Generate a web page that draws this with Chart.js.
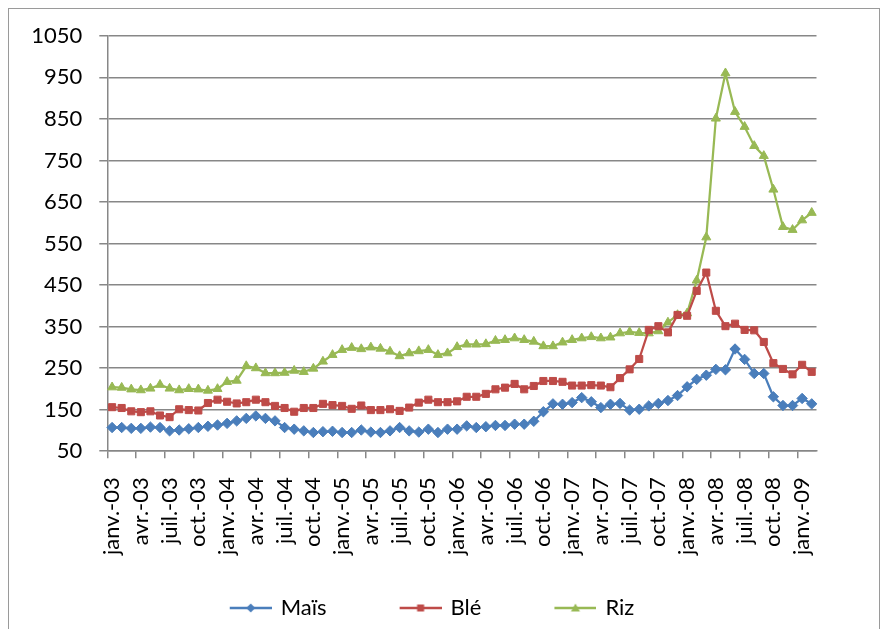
<!DOCTYPE html>
<html lang="fr">
<head>
<meta charset="utf-8">
<title>Prix des céréales : Maïs, Blé, Riz</title>
<script src="https://cdn.jsdelivr.net/npm/chart.js@4.4.1/dist/chart.umd.min.js"></script>
<style>
  html, body { margin: 0; padding: 0; background: #fff; }
  #wrap { width: 888px; height: 629px; }
</style>
</head>
<body>
<div id="wrap"><canvas id="chart" width="888" height="629"></canvas></div>
<script>
// Monthly series, janv.-03 .. févr.-09
const monthNames = ['janv.', 'févr.', 'mars', 'avr.', 'mai', 'juin', 'juil.', 'août', 'sept.', 'oct.', 'nov.', 'déc.'];
const years = ['03', '04', '05', '06', '07', '08', '09'];
const monthCount = 74;

const categories = [];
for (let i = 0; i < monthCount; i++) {
  categories.push(monthNames[i % 12] + '-' + years[Math.floor(i / 12)]);
}

const maisValues = [
  107, 107, 105, 105, 108, 107, 99, 101, 104, 107, 110, 113,
  117, 123, 129, 135, 129, 123, 107, 103, 99, 95, 97, 98,
  95, 95, 101, 96, 95, 99, 107, 99, 96, 103, 95, 103,
  103, 111, 107, 109, 112, 112, 115, 115, 122, 145, 164, 163,
  167, 179, 169, 155, 163, 165, 149, 151, 159, 165, 172, 184,
  205, 223, 233, 247, 246, 296, 271, 237, 237, 181, 160, 160, 177, 164
];

const bleValues = [
  156, 154, 146, 144, 146, 136, 132, 151, 149, 148, 166, 174,
  169, 165, 168, 174, 168, 159, 154, 145, 154, 154, 164, 161,
  159, 152, 160, 149, 149, 151, 147, 155, 167, 174, 168, 168,
  170, 181, 181, 188, 199, 203, 212, 199, 207, 219, 219, 217,
  208, 208, 209, 208, 204, 226, 247, 272, 342, 351, 336, 378,
  376, 436, 480, 388, 351, 357, 342, 341, 313, 262, 248, 235, 258, 241
];

const rizValues = [
  204, 203, 199, 197, 201, 210, 201, 197, 200, 199, 196, 200,
  217, 220, 255, 250, 238, 238, 239, 244, 241, 249, 266, 282,
  294, 299, 296, 300, 297, 290, 279, 286, 291, 294, 282, 286,
  301, 307, 307, 308, 316, 318, 322, 318, 314, 303, 303, 312,
  318, 322, 325, 322, 324, 334, 337, 335, 334, 339, 360, 378,
  382, 461, 565, 851, 960, 867, 831, 785, 761, 680, 590, 583, 606, 624
];

const seriesNames = ['Maïs', 'Blé', 'Riz'];
const seriesColors = ['#4A7EBB', '#BE4B48', '#98B954'];
const seriesMarkers = ['rectRot', 'rect', 'triangle'];

const yMin = 50, yMax = 1050, yStep = 100;
const labelEvery = 3;

const FONT = 'Lato, "Open Sans", "DejaVu Sans", sans-serif';
const AXIS_GREY = '#878787';

// Legend symbol: a short line with the series marker in its middle.
// The canvas is wider than the symbol; its empty left part spaces the entries apart.
const ICON_W = 80, ICON_H = 16, LINE_FROM = 38;
function legendIcon(color, marker) {
  const c = document.createElement('canvas');
  c.width = ICON_W; c.height = ICON_H;
  const g = c.getContext('2d');
  const cy = ICON_H / 2;
  const cx = (LINE_FROM + ICON_W) / 2;
  g.strokeStyle = color;
  g.fillStyle = color;
  g.lineWidth = 2.5;
  g.beginPath();
  g.moveTo(LINE_FROM, cy); g.lineTo(ICON_W, cy);
  g.stroke();
  g.beginPath();
  if (marker === 'rectRot') {
    g.moveTo(cx, cy - 4.5); g.lineTo(cx + 4.5, cy); g.lineTo(cx, cy + 4.5); g.lineTo(cx - 4.5, cy);
  } else if (marker === 'rect') {
    g.rect(cx - 3.5, cy - 3.5, 7, 7);
  } else {
    g.moveTo(cx, cy - 4.5); g.lineTo(cx + 4.5, cy + 3.5); g.lineTo(cx - 4.5, cy + 3.5);
  }
  g.closePath();
  g.fill();
  return c;
}
const legendIcons = seriesColors.map((c, i) => legendIcon(c, seriesMarkers[i]));

// White background and light frame around the whole chart
const frame = {
  id: 'frame',
  beforeDraw(chart) {
    const ctx = chart.ctx;
    ctx.save();
    ctx.fillStyle = '#ffffff';
    ctx.fillRect(0, 0, chart.width, chart.height);
    ctx.strokeStyle = '#9a9a9a';
    ctx.lineWidth = 1;
    ctx.strokeRect(8.5, 8.5, 871, 640);
    ctx.restore();
  }
};

const seriesData = [maisValues, bleValues, rizValues];

new Chart(document.getElementById('chart'), {
  type: 'line',
  data: {
    labels: categories,
    datasets: seriesNames.map((name, i) => ({
      label: name,
      data: seriesData[i],
      borderColor: seriesColors[i],
      backgroundColor: seriesColors[i],
      pointBackgroundColor: seriesColors[i],
      pointBorderColor: seriesColors[i],
      pointStyle: seriesMarkers[i],
      pointRadius: i === 1 ? 5 : 5.2,
      pointBorderWidth: 1,
      borderWidth: 2.25,
      tension: 0,
      fill: false
    }))
  },
  options: {
    responsive: false,
    animation: false,
    devicePixelRatio: 1,
    layout: { padding: { left: 11.5, right: 71.5, top: 35.8, bottom: 0 } },
    plugins: {
      tooltip: { enabled: false },
      title: { display: false },
      legend: {
        position: 'bottom',
        labels: {
          usePointStyle: true,
          pointStyleWidth: 76,
          padding: 37,
          color: '#000',
          font: { family: FONT, size: 22 },
          generateLabels(chart) {
            const items = Chart.defaults.plugins.legend.labels.generateLabels(chart);
            items.forEach((it, i) => { it.pointStyle = legendIcons[i]; });
            return items;
          }
        }
      }
    },
    scales: {
      x: {
        type: 'category',
        offset: true,
        afterFit(scale) { scale.height = 108.8; },
        grid: {
          offset: true,
          drawOnChartArea: false,
          drawTicks: true,
          tickLength: 7,
          lineWidth: 1.5,
          color: (ctx) => (ctx.index % labelEvery === 0 && ctx.index < monthCount) ? AXIS_GREY : 'rgba(0,0,0,0)'
        },
        border: { display: true, color: AXIS_GREY, width: 1.5 },
        ticks: {
          autoSkip: false,
          minRotation: 90,
          maxRotation: 90,
          padding: 19,
          color: '#000',
          font: { family: FONT, size: 22 },
          callback: (value, index) => index % labelEvery === 0 ? categories[index] : ''
        }
      },
      y: {
        min: yMin,
        max: yMax,
        afterFit(scale) { scale.width = 95.8; },
        grid: {
          color: AXIS_GREY,
          lineWidth: 1.5,
          drawTicks: true,
          tickLength: 8
        },
        border: { display: true, color: AXIS_GREY, width: 1.5 },
        ticks: {
          stepSize: yStep,
          padding: 17,
          color: '#000',
          font: { family: FONT, size: 22 },
          callback: (value) => String(value)
        }
      }
    }
  },
  plugins: [frame]
});
</script>
</body>
</html>
